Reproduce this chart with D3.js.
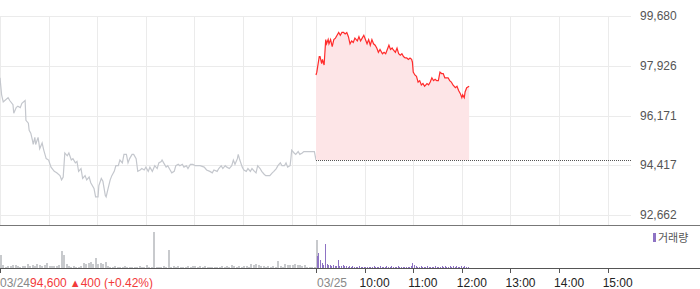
<!DOCTYPE html>
<html>
<head>
<meta charset="utf-8">
<script src="https://cdn.jsdelivr.net/npm/d3@7"></script>
<style>
  body { margin: 0; background: #fff; }
  svg { display: block; font-family: "Liberation Sans", Arial, sans-serif; }
</style>
</head>
<body>
<svg width="700" height="289"></svg>
<script>
// ---- data ----
const prevClose = 94600;
const priceTicks = [92662, 94417, 96171, 97926, 99680];
const hourTicks = ["09:00", "10:00", "11:00", "12:00", "13:00", "14:00", "15:00"];
const timeLabels = ["10:00", "11:00", "12:00", "13:00", "14:00", "15:00"];
const dayLabels = ["03/24", "03/25"];

// 03/24 (previous session), grey line
const prevDay = [
  ["09:00", 97500], ["09:02", 96900], ["09:04", 96650], ["09:06", 96700], ["09:10", 96800],
  ["09:12", 96700], ["09:16", 96550], ["09:17", 96250], ["09:20", 96450], ["09:22", 96500],
  ["09:25", 96450], ["09:27", 96600], ["09:31", 96700], ["09:32", 96000], ["09:35", 95900],
  ["09:36", 95650], ["09:38", 95550], ["09:40", 95300], ["09:41", 95150], ["09:43", 95400],
  ["09:44", 95150], ["09:47", 95400], ["09:49", 95000], ["09:52", 95200], ["09:54", 94950],
  ["09:57", 94650], ["10:00", 94600], ["10:03", 94350], ["10:07", 94200], ["10:10", 94150],
  ["10:14", 94050], ["10:16", 93900], ["10:18", 94000], ["10:20", 94850], ["10:23", 94750],
  ["10:25", 94850], ["10:28", 94600], ["10:30", 94650], ["10:33", 94500], ["10:35", 94550],
  ["10:37", 94200], ["10:40", 94300], ["10:42", 93950], ["10:45", 94050], ["10:47", 93900],
  ["10:50", 94000], ["10:52", 93800], ["10:56", 93600], ["10:58", 93300], ["11:01", 93300],
  ["11:02", 93700], ["11:05", 93950], ["11:07", 93850], ["11:10", 93350], ["11:11", 93300],
  ["11:13", 93550], ["11:16", 93900], ["11:18", 94050], ["11:21", 94200], ["11:23", 94400],
  ["11:26", 94400], ["11:28", 94600], ["11:31", 94500], ["11:33", 94800], ["11:36", 94800],
  ["11:38", 94500], ["11:40", 94650], ["11:43", 94800], ["11:45", 94800], ["11:48", 94650],
  ["11:50", 94200], ["11:53", 94250], ["11:55", 94300], ["11:58", 94250], ["12:00", 94350],
  ["12:03", 94200], ["12:05", 94350], ["12:08", 94200], ["12:11", 94400], ["12:14", 94300],
  ["12:16", 94500], ["12:19", 94550], ["12:20", 94600], ["12:22", 94500], ["12:25", 94350],
  ["12:27", 94400], ["12:30", 94250], ["12:32", 94150], ["12:35", 94200], ["12:37", 94400],
  ["12:40", 94450], ["12:42", 94400], ["12:45", 94450], ["12:47", 94350], ["12:50", 94400],
  ["12:52", 94300], ["12:55", 94450], ["12:58", 94450], ["13:01", 94400], ["13:04", 94400],
  ["13:07", 94400], ["13:12", 94350], ["13:15", 94250], ["13:19", 94200], ["13:22", 94150],
  ["13:24", 94250], ["13:28", 94200], ["13:30", 94300], ["13:33", 94400], ["13:35", 94300],
  ["13:38", 94400], ["13:40", 94350], ["13:43", 94300], ["13:46", 94400], ["13:48", 94600],
  ["13:50", 94450], ["13:53", 94650], ["13:54", 94800], ["13:56", 94600], ["13:59", 94350],
  ["14:01", 94250], ["14:04", 94200], ["14:06", 94300], ["14:09", 94200], ["14:11", 94300],
  ["14:14", 94200], ["14:16", 94150], ["14:18", 94400], ["14:21", 94300], ["14:23", 94200],
  ["14:26", 94100], ["14:28", 94050], ["14:31", 94050], ["14:33", 94050], ["14:36", 94150],
  ["14:38", 94200], ["14:41", 94300], ["14:43", 94400], ["14:46", 94500], ["14:48", 94400],
  ["14:51", 94400], ["14:53", 94500], ["14:55", 94350], ["14:58", 94400], ["14:59", 94650],
  ["15:00", 94950], ["15:03", 94850], ["15:05", 94800], ["15:08", 94900], ["15:10", 94800],
  ["15:13", 94850], ["15:15", 94900], ["15:18", 94900], ["15:23", 94900], ["15:28", 94900],
  ["15:30", 94600]
];

// 03/25 (current session), red line
const today = [
  ["09:00", 97600], ["09:01", 97700], ["09:04", 98250], ["09:05", 98250], ["09:07", 98000],
  ["09:08", 98150], ["09:10", 97950], ["09:12", 98850], ["09:13", 98700], ["09:15", 98850],
  ["09:16", 98700], ["09:18", 98850], ["09:20", 98600], ["09:22", 98850], ["09:24", 98900],
  ["09:26", 99000], ["09:28", 99100], ["09:30", 99000], ["09:32", 99100], ["09:34", 99100],
  ["09:36", 99050], ["09:38", 99100], ["09:40", 98950], ["09:42", 98700], ["09:44", 98800],
  ["09:46", 98750], ["09:48", 98900], ["09:51", 98800], ["09:53", 98950], ["09:55", 98800],
  ["09:57", 98900], ["09:59", 99000], ["10:01", 98850], ["10:03", 98700], ["10:05", 98850],
  ["10:07", 98650], ["10:09", 98850], ["10:11", 98700], ["10:13", 98650], ["10:15", 98550],
  ["10:17", 98400], ["10:19", 98500], ["10:22", 98350], ["10:24", 98400], ["10:26", 98350],
  ["10:28", 98500], ["10:30", 98650], ["10:32", 98500], ["10:34", 98550], ["10:35", 98500],
  ["10:38", 98400], ["10:40", 98550], ["10:42", 98350], ["10:44", 98300], ["10:46", 98350],
  ["10:48", 98250], ["10:50", 98200], ["10:52", 98200], ["10:54", 98150], ["10:56", 98200],
  ["10:58", 98150], ["10:59", 98050], ["11:00", 97700], ["11:02", 97600], ["11:04", 97550],
  ["11:06", 97350], ["11:08", 97400], ["11:10", 97250], ["11:12", 97300], ["11:14", 97200],
  ["11:17", 97300], ["11:19", 97250], ["11:21", 97350], ["11:23", 97500], ["11:25", 97400],
  ["11:27", 97450], ["11:29", 97400], ["11:31", 97400], ["11:33", 97700], ["11:35", 97650],
  ["11:37", 97650], ["11:39", 97500], ["11:41", 97500], ["11:43", 97500], ["11:45", 97400],
  ["11:47", 97350], ["11:49", 97250], ["11:52", 97150], ["11:54", 97200], ["11:56", 97050],
  ["11:58", 96950], ["12:00", 96800], ["12:01", 96900], ["12:03", 96800], ["12:04", 97000],
  ["12:06", 97150], ["12:09", 97200]
];

// volume: 03/24 every 3 minutes from 09:00 (last one is the 15:30 close)
const prevVolume = [
  13000, 3000, 1000, 2000, 2000, 3000, 3000, 2000, 1000, 2000,
  2000, 4000, 2000, 3000, 2000, 4000, 3000, 2000, 3000, 5000,
  2000, 2000, 2000, 2000, 3000, 17000, 13000, 4000, 2000, 1000,
  2000, 1000, 1000, 2000, 5000, 4000, 5000, 6000, 4000, 10000,
  4000, 5000, 4000, 6000, 2000, 1000, 1000, 2000, 1000, 1000,
  1000, 2000, 1000, 1000, 1000, 1000, 1000, 2000, 1000, 1000,
  3000, 1000, 1000, 36000, 1000, 1000, 1000, 2000, 1000, 18000,
  1000, 2000, 1000, 2000, 1000, 1000, 1000, 2000, 1000, 2000,
  2000, 1000, 2000, 1000, 2000, 1000, 1000, 1000, 1000, 1000,
  1000, 2000, 1000, 2000, 1000, 3000, 2000, 1000, 2000, 1000,
  2000, 2000, 1000, 4000, 3000, 4000, 3000, 2000, 2000, 1000,
  2000, 1000, 2000, 1000, 7000, 2000, 1000, 4000, 3000, 3000,
  3000, 4000, 3000, 3000, 2000, 3000, 1000, 1000, 1000, 1000,
  28000
];
// volume: 03/25 every 2 minutes from 09:01
const todayVolume = [
  12000, 15000, 8000, 5000, 3000, 24000, 4000, 3000, 3000, 2000,
  3000, 2000, 2000, 8000, 2000, 2000, 3000, 2000, 2000, 1000,
  2000, 1000, 2000, 1000, 1000, 1000, 2000, 1000, 1000, 1000,
  1000, 1000, 1000, 1000, 1000, 2000, 1000, 1000, 1000, 2000,
  1000, 1000, 1000, 2000, 1000, 1000, 2000, 1000, 1000, 1000,
  2000, 1000, 1000, 1000, 1000, 1000, 1000, 1000, 2000, 5000,
  3000, 2000, 1000, 1000, 2000, 1000, 1000, 1000, 2000, 1000,
  1000, 1000, 1000, 2000, 1000, 1000, 1000, 2000, 1000, 2000,
  1000, 1000, 2000, 1000, 2000, 1000, 2000, 1000, 1000, 2000,
  1000, 2000, 1000, 1000
];

// ---- drawing ----
const svg = d3.select("svg");
const width = parseInt(svg.attr("width"));

// minutes since 09:00 of the first day; each session is 390 minutes
const toMin = (t, day) => {
  const [h, m] = t.split(":").map(Number);
  return day * 390 + (h - 9) * 60 + m;
};

const x = d3.scaleLinear().domain([0, 780]).range([0, 632]);
const y = d3.scaleLinear().domain([92662, 99680]).range([215, 16]);
const yVol = d3.scaleLinear().domain([0, 40000]).range([268, 228]);

// horizontal grid + price labels
const grid = svg.append("g");
grid.selectAll(".h")
  .data(priceTicks)
  .join("line")
  .attr("x1", 0)
  .attr("x2", 631)
  .attr("y1", d => Math.round(y(d)) + 0.5)
  .attr("y2", d => Math.round(y(d)) + 0.5)
  .attr("stroke", "#ebebeb");

// vertical grid, both days
const gridMinutes = [0, 1].flatMap(day => hourTicks.map(t => toMin(t, day)));
grid.selectAll(".v")
  .data(gridMinutes)
  .join("line")
  .attr("x1", d => Math.round(x(d)) + 0.5)
  .attr("x2", d => Math.round(x(d)) + 0.5)
  .attr("y1", 16)
  .attr("y2", 225)
  .attr("stroke", "#ebebeb");

svg.append("g")
  .selectAll("text")
  .data(priceTicks)
  .join("text")
  .attr("x", 640)
  .attr("y", d => y(d))
  .attr("dy", "0.35em")
  .attr("font-size", 12)
  .attr("fill", "#555")
  .text(d => d3.format(",")(d));

// previous session
const prevLine = d3.line()
  .x(d => x(toMin(d[0], 0)))
  .y(d => y(d[1]));
svg.append("path")
  .datum(prevDay)
  .attr("d", prevLine)
  .attr("fill", "none")
  .attr("stroke", "#c4c7cd")
  .attr("stroke-width", 1.2);

// current session: area down to previous close, then line
const todayArea = d3.area()
  .x(d => x(toMin(d[0], 1)))
  .y0(y(prevClose))
  .y1(d => y(d[1]));
svg.append("path")
  .datum(today)
  .attr("d", todayArea)
  .attr("fill", "#fde5e7");

const todayLine = d3.line()
  .x(d => x(toMin(d[0], 1)))
  .y(d => y(d[1]));
svg.append("path")
  .datum(today)
  .attr("d", todayLine)
  .attr("fill", "none")
  .attr("stroke", "#ff2b2b")
  .attr("stroke-width", 1.2);

// previous close reference (dotted)
svg.append("line")
  .attr("x1", x(390))
  .attr("x2", 631)
  .attr("y1", Math.round(y(prevClose)) + 0.5)
  .attr("y2", Math.round(y(prevClose)) + 0.5)
  .attr("stroke", "#555")
  .attr("stroke-dasharray", "1,1");

// separator between price and volume panel
svg.append("line")
  .attr("x1", 0).attr("x2", width)
  .attr("y1", 225.5).attr("y2", 225.5)
  .attr("stroke", "#777");

// volume bars
svg.append("g")
  .selectAll("rect")
  .data(prevVolume)
  .join("rect")
  .attr("x", (d, i) => Math.round(x(i * 3)))
  .attr("width", 2)
  .attr("y", d => yVol(d))
  .attr("height", d => yVol(0) - yVol(d))
  .attr("fill", "#c8cacd");

svg.append("g")
  .selectAll("rect")
  .data(todayVolume)
  .join("rect")
  .attr("x", (d, i) => Math.round(x(391 + i * 2)))
  .attr("width", 1)
  .attr("y", d => yVol(d))
  .attr("height", d => yVol(0) - yVol(d))
  .attr("fill", "#8e73c4");

// time axis
svg.append("line")
  .attr("x1", 0).attr("x2", width)
  .attr("y1", 268.5).attr("y2", 268.5)
  .attr("stroke", "#555");

const axisTicks = [0].concat(hourTicks.map(t => toMin(t, 1)));
svg.append("g")
  .selectAll("line")
  .data(axisTicks)
  .join("line")
  .attr("x1", d => Math.round(x(d)) + 0.5)
  .attr("x2", d => Math.round(x(d)) + 0.5)
  .attr("y1", 268)
  .attr("y2", 273)
  .attr("stroke", "#555");

const bottom = svg.append("g").attr("font-size", 12);
bottom.selectAll(".time")
  .data(timeLabels)
  .join("text")
  .attr("x", d => x(toMin(d, 1)) - 5)
  .attr("y", 287)
  .attr("fill", "#222")
  .text(d => d);

bottom.append("text")
  .attr("x", x(390) + 1)
  .attr("y", 287)
  .attr("fill", "#888")
  .text(dayLabels[1]);

const info = bottom.append("text").attr("x", 0).attr("y", 287);
info.append("tspan").attr("fill", "#888").text(dayLabels[0]);
info.append("tspan").attr("fill", "#f23a3a").text(d3.format(",")(prevClose));
info.append("tspan").attr("fill", "#f23a3a").attr("dx", 3).attr("font-size", 11).text("▲");
info.append("tspan").attr("fill", "#f23a3a").text("400 (+0.42%)");

// legend
svg.append("rect")
  .attr("x", 653).attr("y", 233)
  .attr("width", 3).attr("height", 9)
  .attr("fill", "#8e73c4");
svg.append("text")
  .attr("x", 658).attr("y", 242)
  .attr("font-size", 11)
  .attr("font-family", "'Noto Sans CJK KR', sans-serif")
  .attr("fill", "#555")
  .text("거래량");
</script>
</body>
</html>
